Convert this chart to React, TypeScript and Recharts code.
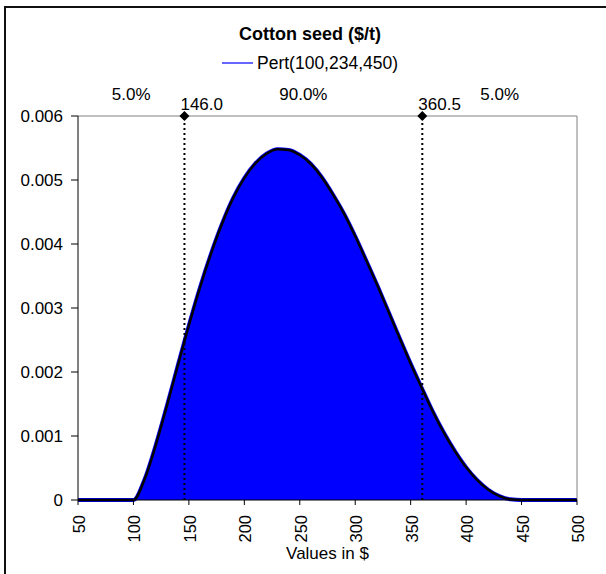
import {
  Area,
  ComposedChart,
  Line,
  ReferenceArea,
  ReferenceDot,
  ReferenceLine,
  XAxis,
  YAxis,
} from 'recharts'

const FONT = '"Liberation Sans", Arial, sans-serif'

// values in $, density
const values = [
  50, 60, 70, 80, 90, 100, 110, 120, 130, 140, 150, 160, 170, 180, 190, 200, 210, 220, 230, 240, 250, 260, 270,
  280, 290, 300, 310, 320, 330, 340, 350, 360, 370, 380, 390, 400, 410, 420, 430, 440, 450, 460, 470, 480, 490, 500,
]
const density = [
  0, 0, 0, 0, 0, 0, 0.00032, 0.00085, 0.00146, 0.0021, 0.00273, 0.00332, 0.00385, 0.00432, 0.00472, 0.00503,
  0.00526, 0.00541, 0.00548, 0.00547, 0.00539, 0.00525, 0.00504, 0.00477, 0.00447, 0.00412, 0.00374, 0.00335,
  0.00294, 0.00253, 0.00213, 0.00175, 0.00138, 0.00105, 0.00076, 0.00051, 0.00031, 0.00016, 0.00006, 0.00001, 0,
  0, 0, 0, 0, 0,
]

const xTicks = [50, 100, 150, 200, 250, 300, 350, 400, 450, 500]
const yTicks = [0, 0.001, 0.002, 0.003, 0.004, 0.005, 0.006]

const cutoffs = [146.0, 360.5]
const bandLabels = ['5.0%', '90.0%', '5.0%']
const bandEdges = [50, ...cutoffs, 500]

const title = 'Cotton seed ($/t)'
const seriesName = 'Pert(100,234,450)'

const data = values.map((v, i) => ({ x: v, y: density[i] }))

const XTick = (props: any) => {
  const { x, y, payload } = props
  return (
    <text
      transform={`translate(${x + 7},${y + 8}) rotate(-90)`}
      textAnchor="end"
      fontSize={16.5}
      fontFamily={FONT}
      fill="#000"
    >
      {payload.value}
    </text>
  )
}

const Diamond = (props: any) => {
  const { cx, cy } = props
  return <polygon points={`${cx},${cy - 5} ${cx + 5},${cy} ${cx},${cy + 5} ${cx - 5},${cy}`} fill="#000" />
}

export default function App() {
  return (
    <div style={{ position: 'fixed', left: 0, top: 0, width: 606, height: 574, overflow: 'hidden', background: '#fff' }}>
      <div
        style={{
          position: 'absolute',
          left: 4,
          top: 6,
          width: 800,
          height: 800,
          borderLeft: '2px solid #111',
          borderTop: '2px solid #111',
        }}
      />
      <div
        style={{
          position: 'absolute',
          left: 0,
          width: 620,
          top: 23,
          textAlign: 'center',
          fontFamily: FONT,
          fontWeight: 'bold',
          fontSize: 18,
          lineHeight: '22px',
        }}
      >
        {title}
      </div>
      <div
        style={{
          position: 'absolute',
          left: 222,
          top: 52,
          display: 'flex',
          alignItems: 'center',
          fontFamily: FONT,
          fontSize: 17.5,
          lineHeight: '22px',
        }}
      >
        <svg width={35} height={22}>
          <line x1={0} x2={31} y1={11} y2={11} stroke="#3333ff" strokeWidth={1.5} />
        </svg>
        <span>{seriesName}</span>
      </div>
      <ComposedChart
        width={606}
        height={574}
        data={data}
        margin={{ top: 116, right: 29, bottom: 14, left: 18 }}
        style={{ position: 'absolute', left: 0, top: 0 }}
      >
        <XAxis
          dataKey="x"
          type="number"
          domain={[50, 500]}
          ticks={xTicks}
          interval={0}
          height={60}
          tickSize={5}
          axisLine={{ stroke: '#000' }}
          tickLine={{ stroke: '#000' }}
          tick={<XTick />}
          label={(p: any) => (
            <text
              x={p.viewBox.x + p.viewBox.width / 2}
              y={p.viewBox.y + 59}
              textAnchor="middle"
              fontSize={17}
              fontFamily={FONT}
              fill="#000"
            >
              Values in $
            </text>
          )}
        />
        <YAxis
          type="number"
          domain={[0, 0.006]}
          ticks={yTicks}
          width={60}
          tickSize={7}
          tickMargin={8}
          axisLine={{ stroke: '#000' }}
          tickLine={{ stroke: '#000' }}
          tick={{ fontSize: 17, fontFamily: FONT, fill: '#000' }}
          tickFormatter={(v: number) => (v === 0 ? '0' : v.toFixed(3))}
        />
        <ReferenceLine y={0.006} stroke="#808080" strokeWidth={1} />
        <ReferenceLine x={500} stroke="#808080" strokeWidth={1} />
        <Area
          type="monotone"
          dataKey="y"
          stroke="#0000ff"
          strokeWidth={4}
          fill="#0000ff"
          fillOpacity={1}
          isAnimationActive={false}
        />
        <Line type="monotone" dataKey="y" stroke="#000" strokeWidth={2.5} dot={false} isAnimationActive={false} />
        {bandLabels.map((lab, i) => (
          <ReferenceArea
            key={'band' + i}
            x1={bandEdges[i]}
            x2={bandEdges[i + 1]}
            y1={0}
            y2={0.006}
            fillOpacity={0}
            strokeOpacity={0}
            label={(p: any) => (
              <text
                x={p.viewBox.x + p.viewBox.width / 2}
                y={p.viewBox.y - 16}
                textAnchor="middle"
                fontSize={17}
                fontFamily={FONT}
                fill="#000"
              >
                {lab}
              </text>
            )}
          />
        ))}
        {cutoffs.map((c) => (
          <ReferenceLine
            key={'cut' + c}
            x={c}
            stroke="#000"
            strokeWidth={2}
            strokeDasharray="2 3"
            label={(p: any) => (
              <text x={p.viewBox.x - 4} y={p.viewBox.y - 6} fontSize={17} fontFamily={FONT} fill="#000">
                {c.toFixed(1)}
              </text>
            )}
          />
        ))}
        {cutoffs.map((c) => (
          <ReferenceDot key={'dot' + c} x={c} y={0.006} r={5} shape={<Diamond />} />
        ))}
      </ComposedChart>
    </div>
  )
}
